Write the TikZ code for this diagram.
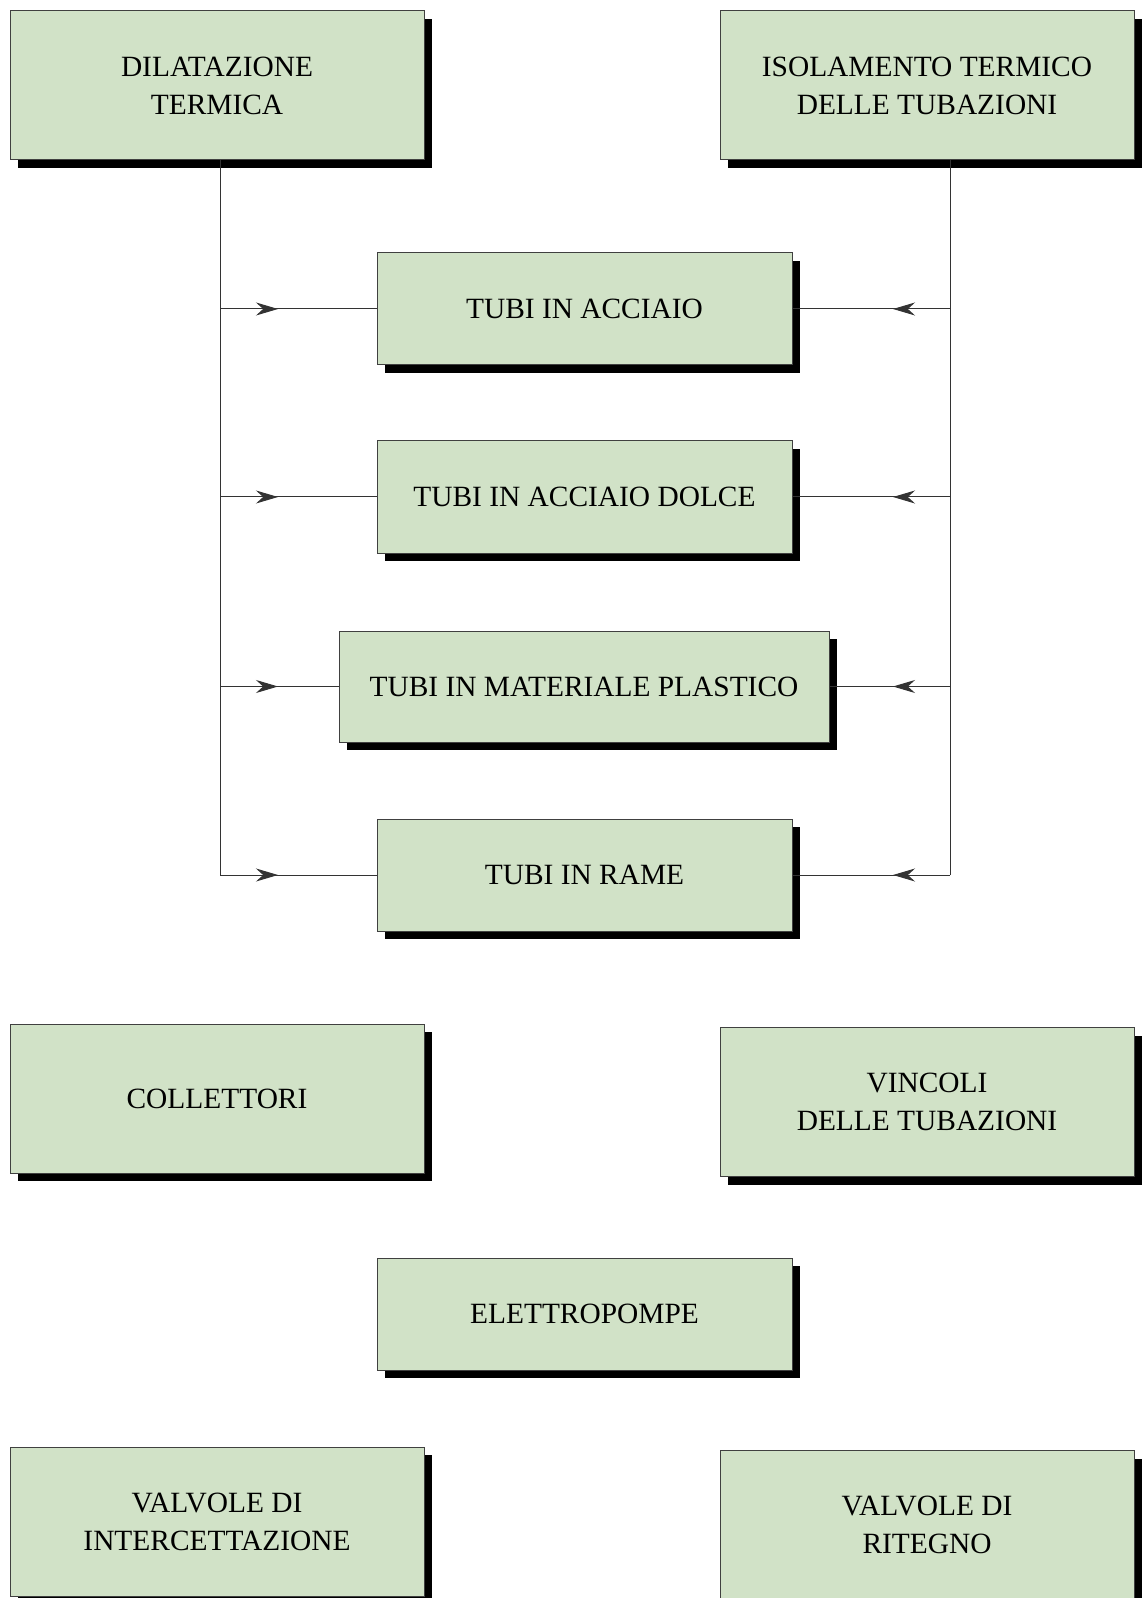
\documentclass[tikz,border=0pt]{standalone}
\usepackage{fontspec}
\setmainfont{Liberation Serif}
\usetikzlibrary{arrows.meta,shadows,positioning}
\definecolor{boxgreen}{RGB}{209,226,199}
\begin{document}
\begin{tikzpicture}[x=0.5pt,y=-0.5pt,
    topic/.style={draw=black!75,line width=0.5pt,fill=boxgreen,align=center,
        font=\fontsize{14.7}{19}\selectfont,inner sep=0pt,
        drop shadow={shadow xshift=4pt,shadow yshift=-4pt,fill=black,opacity=1}},
    bigbox/.style={topic,minimum width=207pt,minimum height=74.5pt},
    pipebox/.style={topic,minimum width=207.5pt,minimum height=56pt},
    link/.style={line width=0.5pt,draw=black!80},
    tip/.style={link,-{Stealth[length=11pt,width=6.5pt]}}]
\useasboundingbox (0,0) rectangle (1142,1598);
% argomenti principali
\node[bigbox] (dil) at (217,85.5) {DILATAZIONE\\TERMICA};
\node[bigbox] (iso) at (927,85.5) {ISOLAMENTO TERMICO\\DELLE TUBAZIONI};
% tipi di tubi
\node[pipebox] (acc) at (584.5,309) {TUBI IN ACCIAIO};
\node[pipebox] (dolce) at (584.5,497) {TUBI IN ACCIAIO DOLCE};
\node[pipebox,minimum width=245pt,minimum height=55.5pt] (plast) at (584,686.5) {TUBI IN MATERIALE PLASTICO};
\node[pipebox] (rame) at (584.5,875) {TUBI IN RAME};
% altri argomenti
\node[bigbox] (coll) at (217,1098.5) {COLLETTORI};
\node[bigbox] (vinc) at (927,1102) {VINCOLI\\DELLE TUBAZIONI};
\node[pipebox] (pompe) at (584.5,1314) {ELETTROPOMPE};
\node[bigbox] (intc) at (217,1521.5) {VALVOLE DI\\INTERCETTAZIONE};
\node[bigbox] (rit) at (927,1525) {VALVOLE DI\\RITEGNO};
% collegamenti
\coordinate (ltrunk) at ([xshift=1.5pt]dil.south);
\coordinate (rtrunk) at ([xshift=11.5pt]iso.south);
\draw[link] (ltrunk) -- (ltrunk |- rame.west);
\draw[link] (rtrunk) -- (rtrunk |- rame.east);
\foreach \b in {acc,dolce,plast,rame}{
    \draw[link] (ltrunk |- \b.west) -- (\b.west);
    \draw[tip] (ltrunk |- \b.west) -- ++(58,0);
    \draw[link] (rtrunk |- \b.east) -- (\b.east);
    \draw[tip] (rtrunk |- \b.east) -- ++(-57,0);
}
\end{tikzpicture}
\end{document}
